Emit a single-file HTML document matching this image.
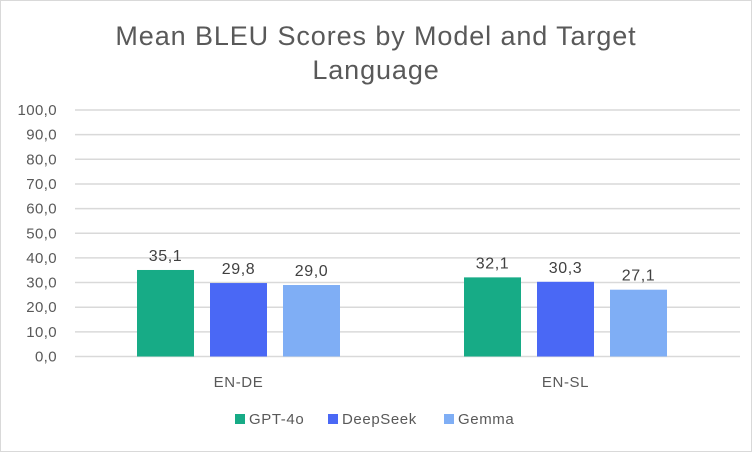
<!DOCTYPE html>
<html><head><meta charset="utf-8"><style>
body{margin:0;background:#fff;}
svg{display:block;font-family:"Liberation Sans",sans-serif;}
</style></head><body>
<svg id="c" width="752" height="452">
<rect x="0.5" y="0.5" width="751" height="451" fill="#fff" stroke="#d9d9d9"/>
<text x="376" y="45" text-anchor="middle" font-size="27" letter-spacing="0.9" fill="#595959">Mean BLEU Scores by Model and Target</text>
<text x="376" y="79" text-anchor="middle" font-size="27" letter-spacing="0.9" fill="#595959">Language</text>
<g id="grid"></g><g id="bars"></g><g id="labels"></g>
<g letter-spacing="0.6">
<rect x="235" y="414" width="10" height="10" fill="#17AB86"/>
<text x="249" y="424" font-size="15" fill="#595959">GPT-4o</text>
<rect x="328" y="414" width="10" height="10" fill="#4A68F5"/>
<text x="342" y="424" font-size="15" fill="#595959">DeepSeek</text>
<rect x="444" y="414" width="10" height="10" fill="#7FAEF5"/>
<text x="458" y="424" font-size="15" fill="#595959">Gemma</text>
</g>
</svg>
<script>
const categories=["EN-DE","EN-SL"];
const seriesNames=["GPT-4o","DeepSeek","Gemma"];
const gpt4o=[35.1,32.1];
const deepseek=[29.8,30.3];
const gemma=[29.0,27.1];
const yTicks=[0,10,20,30,40,50,60,70,80,90,100];
const colors=["#17AB86","#4A68F5","#7FAEF5"];
const series=[gpt4o,deepseek,gemma];
const NS="http://www.w3.org/2000/svg";
const x0=75,x1=729,yTop=110,yBot=356.5;
const y=v=>yBot-(v/100)*(yBot-yTop);
const cw=(x1-x0)/categories.length;
const bw=57,gap=16;
function mk(t,a,p){const e=document.createElementNS(NS,t);for(const k in a)e.setAttribute(k,a[k]);p.appendChild(e);return e;}
const g=document.getElementById('grid'),b=document.getElementById('bars'),l=document.getElementById('labels');
yTicks.forEach(v=>{
 const ln=mk('line',{x1:x0,x2:740,y1:y(v),y2:y(v),stroke:'#d9d9d9','stroke-width':1.5},g);
 
 
 const t=mk('text',{x:57,y:y(v)+5,'text-anchor':'end','font-size':15,'letter-spacing':0.4,fill:'#595959'},g);
 t.textContent=v.toFixed(1).replace('.',',');
 
 
});
categories.forEach((c,i)=>{
 const cx=x0+cw*(i+0.5);
 const t=mk('text',{x:cx,y:387,'text-anchor':'middle','font-size':15,'letter-spacing':0.6,fill:'#595959'},l);
 t.textContent=c;
 
 
 series.forEach((s,j)=>{
  const bx=cx-(bw*1.5+gap)+j*(bw+gap);
  const r=mk('rect',{x:bx,y:y(s[i]),width:bw,height:yBot-y(s[i]),fill:colors[j]},b);
  
  
  const vt=mk('text',{x:bx+bw/2,y:y(s[i])-9,'text-anchor':'middle','font-size':16,'letter-spacing':0.6,fill:'#404040'},l);
  vt.textContent=s[i].toFixed(1).replace('.',',');
  
  
 });
});
</script>
</body></html>
